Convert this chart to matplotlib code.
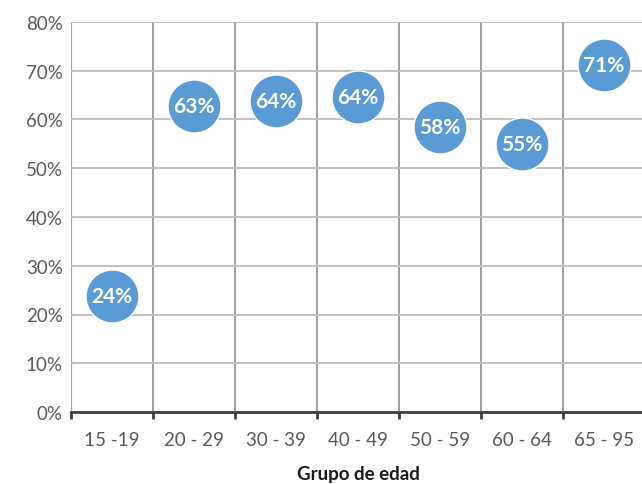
import numpy as np
import matplotlib.pyplot as plt
from matplotlib.ticker import FixedLocator, PercentFormatter

grupos = ["15 -19", "20 - 29", "30 - 39", "40 - 49", "50 - 59", "60 - 64", "65 - 95"]
valores = [0.238, 0.628, 0.638, 0.646, 0.585, 0.55, 0.712]
etiquetas = ["24%", "63%", "64%", "64%", "58%", "55%", "71%"]

plt.rcParams['font.family'] = ['Lato', 'DejaVu Sans']

fig = plt.figure(figsize=(6.42, 4.85), dpi=100)
ax = fig.add_axes([71 / 642, 1 - 413 / 485, 574 / 642, 390 / 485])

x = np.arange(len(grupos))
ax.scatter(x, valores, s=53 ** 2 * 0.5184, color='#5b9bd5', edgecolors='white',
           linewidths=1, zorder=3, clip_on=False)
for xi, v, t in zip(x, valores, etiquetas):
    ax.text(xi, v, t, ha='center', va='center', color='white', fontsize=15,
            fontweight='bold', zorder=4)

ax.set_xlim(-0.5, len(grupos) - 0.5)
ax.set_ylim(0, 0.8)
ax.set_yticks(np.arange(0, 0.81, 0.1))
ax.yaxis.set_major_formatter(PercentFormatter(1.0, decimals=0))
ax.set_xticks(x)
ax.set_xticklabels(grupos)
ax.xaxis.set_minor_locator(FixedLocator(np.arange(-0.5, len(grupos), 1.0)))

ax.grid(axis='y', color='#c0c0c0', linewidth=1.4, zorder=0)
ax.grid(axis='x', which='minor', color='#a0a0a0', linewidth=1.4, zorder=0)
ax.axvline(-0.5, color='#e3e3e3', linewidth=1, zorder=0)

for s in ['top', 'right', 'left']:
    ax.spines[s].set_visible(False)
ax.spines['bottom'].set_color('#3f3f3f')
ax.spines['bottom'].set_linewidth(2)

ax.tick_params(axis='x', which='major', length=0, pad=14, labelsize=13.5,
               labelcolor='#595959')
ax.tick_params(axis='x', which='minor', length=5, width=2, color='#3f3f3f')
ax.tick_params(axis='y', length=0, pad=6, labelsize=13.5, labelcolor='#595959')

ax.set_xlabel("Grupo de edad", fontsize=13.5, fontweight='bold', color='#1a1a1a',
              labelpad=12)

fig.savefig("out.png", dpi=100)
